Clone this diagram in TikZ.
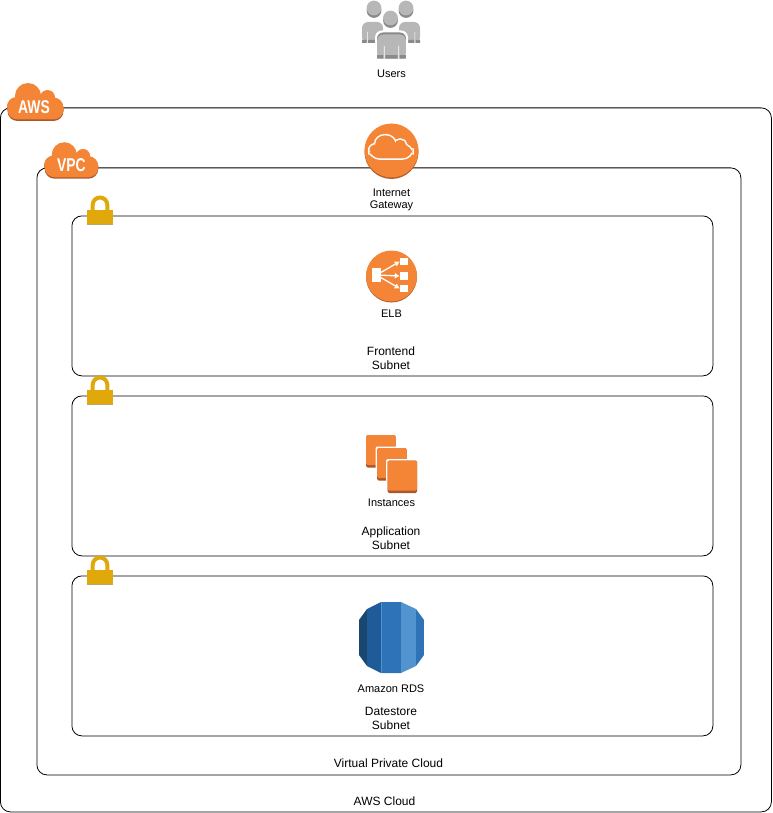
\documentclass[tikz,border=0pt]{standalone}
\usepackage{fontspec}
\setmainfont{Liberation Sans}
\usetikzlibrary{arrows.meta}

\definecolor{awsorange}{HTML}{F58536}
\definecolor{awsshade}{HTML}{A9572B}
\definecolor{lockgold}{HTML}{E0A80B}
\definecolor{lockshade}{HTML}{B9A76A}
\definecolor{usergrey}{HTML}{B7B7B7}
\definecolor{usershade}{HTML}{8A8A8A}
\definecolor{rdsdark}{HTML}{1A476F}
\definecolor{rdsmid}{HTML}{205B99}
\definecolor{rdsmain}{HTML}{2E73B8}
\definecolor{rdslight}{HTML}{5294CF}

\newcommand{\cloudshape}{
    (-28,18) [rounded corners=10pt] rectangle (28,-4)
    (-7.5,-5.5) circle (13)
    (12,-4) circle (7.5)
    (-19,5) circle (9.5)
}

\tikzset{
    x=1pt, y=-1pt,
    boundary/.style={draw, line width=.8pt, rounded corners=10pt, anchor=north west, inner sep=0pt},
    iconlabel/.style={align=center, font=\fontsize{11}{12}\selectfont, inner sep=0pt},
    grouplabel/.style={align=center, font=\fontsize{12}{14}\selectfont, inner sep=0pt},
    badgetext/.style={text=white, inner sep=0pt, font=\fontsize{18.5}{18.5}\selectfont\bfseries},
    roundicon/.style={circle, fill=awsorange, inner sep=0pt},
    roundshade/.style={circle, fill=awsshade!85!awsorange, inner sep=0pt},
    elbbox/.style={fill=white, inner sep=0pt, minimum width=8pt, minimum height=7.5pt},
    elbarrow/.style={draw=white, line width=1.3pt, -{Latex[length=5pt,width=6pt]}},
    cloudbadge/.pic={
        \fill[awsshade] [yshift=-1.5pt] \cloudshape;
        \fill[awsorange] \cloudshape;
    },
    padlock/.pic={
        \draw[lockgold, line width=4pt] (-7.3,-6) -- (-7.3,-12.2) arc[start angle=180, end angle=360, radius=7.3] -- (7.3,-6);
        \fill[lockshade] (-13,0) rectangle (13,8);
        \fill[lockgold] (-13,-7) rectangle (13,6.7);
    },
    instancebox/.pic={
        \fill[white, rounded corners=2pt] (-1.5,-1.5) rectangle (31,34);
        \fill[awsshade, rounded corners=1.5pt] (0,0) rectangle (29.5,32.5);
        \fill[awsorange, rounded corners=1.5pt] (0,0) rectangle (29.5,30);
    },
    personbody/.pic={
        \fill[usergrey, rounded corners=6pt] (-10.5,0) rectangle (10.5,21);
        \fill[usershade] (-10.5,18) rectangle (-6,21) (-4.5,18) rectangle (4.5,21) (6,18) rectangle (10.5,21);
        \fill[white] (-5.5,10) rectangle (-5,21) (5,10) rectangle (5.5,21);
    },
    personhead/.pic={
        \fill[usershade] (0,2.5) circle (7.4);
        \fill[usergrey] (0,0) circle (7.4);
    },
}

\begin{document}
\begin{tikzpicture}
\useasboundingbox (0,0) rectangle (772,813);

% cloud boundaries
\node[boundary, minimum width=771pt, minimum height=704pt] (aws) at (0,107.5) {};
\node[boundary, minimum width=704pt, minimum height=607pt] (vpc) at (36.5,167.5) {};

% subnets
\foreach \name/\top in {frontend/216, application/396, datastore/576} {
    \node[boundary, minimum width=641pt, minimum height=160pt] (\name) at (71.5,\top-.5) {};
    \pic at (100,\top+1) {padlock};
}

% badges
\pic at (35.5,101.5) {cloudbadge};
\node[badgetext] (aws-badge) at (34,107) {\scalebox{.75}[1]{AWS}};
\pic[scale=.96] at (71.5,160) {cloudbadge};
\node[badgetext] (vpc-badge) at (71.5,165) {\scalebox{.75}[1]{VPC}};

% users
\pic at (372.5,22) {personbody};
\pic at (409.5,22) {personbody};
\pic at (374,8) {personhead};
\pic at (406,8) {personhead};
\fill[white, rounded corners=7pt] (375,30.5) rectangle (408,60);
\fill[usershade, rounded corners=6pt] (377,32.5) rectangle (406,45);
\pic[xscale=1.37, yscale=1.15] at (391.5,34.5) {personbody};
\fill[white] (390.5,19) circle (9);
\pic at (390.5,18) {personhead};
\node[iconlabel] (users) at (391.5,73.5) {Users};

% internet gateway
\node[roundshade, minimum size=54pt] (gateway-shade) at (391.5,152) {};
\node[roundicon, minimum size=54pt] (gateway-icon) at (391.5,150.5) {};
\begin{scope}[shift={(391,147)}, xscale=.76, yscale=.63]
    \draw[white, line width=3pt] \cloudshape;
    \fill[awsorange] \cloudshape;
\end{scope}
\node[iconlabel] (gateway) at (391.5,200) {Internet\\Gateway};

% load balancer
\node[roundshade, minimum size=51pt] (elb-shade) at (391.5,277) {};
\node[roundicon, minimum size=51pt] (elb-icon) at (391.5,276) {};
\node[elbbox, minimum width=9pt, minimum height=14pt] (elb-in) at (376.5,275) {};
\foreach \m/\y in {1/261.5, 2/276, 3/288.5} {
    \node[elbbox] (elb-out-\m) at (404,\y) {};
    \draw[elbarrow] (elb-in.center) -- (elb-out-\m.west);
}
\node[iconlabel] (elb) at (391.5,313.5) {ELB};
\node[grouplabel] (frontend-label) at (391,358) {Frontend\\Subnet};

% instances
\foreach \x/\y in {366/435, 377/448, 387.5/460.5} {
    \pic at (\x,\y) {instancebox};
}
\node[iconlabel] (instances) at (391.5,502.5) {Instances};
\node[grouplabel] (application-label) at (391,538) {Application\\Subnet};

% database
\begin{scope}
    \clip (381,602) -- (401,602) -- (416,609) -- (424,620) -- (424,655) -- (416,666) -- (401,673) -- (381,673) -- (367,666) -- (359,655) -- (359,620) -- (367,609) -- cycle;
    \fill[rdsdark] (359,600) rectangle (367,675);
    \fill[rdsmid] (367,600) rectangle (381,675);
    \fill[rdslight] (381,600) rectangle (381.7,675);
    \fill[rdsmain] (381.7,600) rectangle (401,675);
    \fill[rdslight] (401,600) rectangle (416,675);
    \fill[rdsmain] (416,600) rectangle (424,675);
\end{scope}
\node[iconlabel] (rds) at (391,688.5) {Amazon RDS};
\node[grouplabel] (datastore-label) at (391,718) {Datestore\\Subnet};

\node[grouplabel] (vpc-label) at (388.5,763.5) {Virtual Private Cloud};
\node[grouplabel] (aws-label) at (384.5,801) {AWS Cloud};

\end{tikzpicture}
\end{document}
